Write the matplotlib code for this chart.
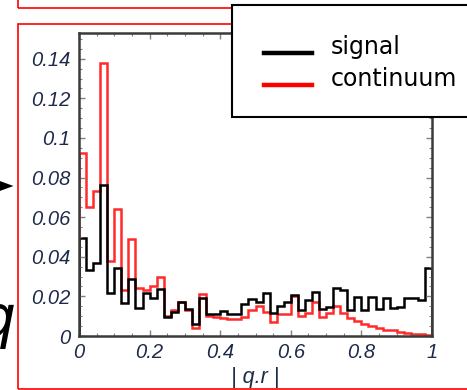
import numpy as np
import matplotlib
matplotlib.use("Agg")
import matplotlib.pyplot as plt
from matplotlib.patches import Rectangle, Polygon
from matplotlib.lines import Line2D
from matplotlib.ticker import MultipleLocator

# histogram of |q.r| in 50 bins over [0, 1]
edges = np.linspace(0.0, 1.0, 51)

signal = [0.0494, 0.0334, 0.0368, 0.0764, 0.0216, 0.0342, 0.0165, 0.029, 0.014, 0.0216,
          0.019, 0.0238, 0.0098, 0.0123, 0.017, 0.0135, 0.006, 0.019, 0.011, 0.011,
          0.0128, 0.011, 0.011, 0.016, 0.0186, 0.017, 0.0215, 0.0118, 0.015, 0.017,
          0.0207, 0.013, 0.018, 0.022, 0.0135, 0.0145, 0.024, 0.023, 0.0132, 0.0199,
          0.0132, 0.0199, 0.0135, 0.019, 0.014, 0.0148, 0.019, 0.019, 0.0183, 0.0342]

continuum = [0.0925, 0.065, 0.073, 0.138, 0.038, 0.064, 0.023, 0.049, 0.024, 0.023,
             0.025, 0.030, 0.010, 0.013, 0.017, 0.013, 0.004, 0.021, 0.010, 0.0095,
             0.009, 0.0085, 0.0085, 0.0095, 0.013, 0.015, 0.012, 0.007, 0.011, 0.011,
             0.020, 0.010, 0.0115, 0.017, 0.0095, 0.0115, 0.015, 0.0115, 0.009, 0.0075,
             0.006, 0.0048, 0.004, 0.0032, 0.0028, 0.0022, 0.0017, 0.0012, 0.0008, 0.0004]

xticks = [0, 0.2, 0.4, 0.6, 0.8, 1]
xticklabels = ["0", "0.2", "0.4", "0.6", "0.8", "1"]
yticks = [0, 0.02, 0.04, 0.06, 0.08, 0.1, 0.12, 0.14]
yticklabels = ["0", "0.02", "0.04", "0.06", "0.08", "0.1", "0.12", "0.14"]
legend_labels = ["signal", "continuum"]

W, H = 467, 390


def fx(x):
    return x / W


def fy(y):
    return 1 - y / H


fig = plt.figure(figsize=(W / 100, H / 100), dpi=100)
ax = fig.add_axes([fx(79), fy(336), 353 / W, 303 / H])

ax.stairs(continuum, edges, color="#ff2a2a", lw=1.8)
ax.stairs(signal, edges, color="black", lw=1.8)

ax.set_xlim(0, 1)
ax.set_ylim(0, 0.153)

tick_font = dict(family="Liberation Sans", style="italic", size=14.5, color="#1e2a4a")
ax.set_xticks(xticks)
ax.set_xticklabels(xticklabels, **tick_font)
ax.set_yticks(yticks)
ax.set_yticklabels(yticklabels, **tick_font)
ax.xaxis.set_minor_locator(MultipleLocator(0.05))
ax.yaxis.set_minor_locator(MultipleLocator(0.005))
ax.tick_params(which="both", direction="in", top=True, right=True, color="#808080")
ax.tick_params(which="major", length=4.5, width=1.0)
ax.tick_params(which="minor", length=2.5, width=0.8)
ax.tick_params(axis="x", pad=5)
ax.tick_params(axis="y", pad=6)
for sp in ax.spines.values():
    sp.set_color("#3a3a3a")
    sp.set_linewidth(1.8)

ax.set_xlabel("| q.r |", family="Liberation Sans", style="italic", size=15.5, color="#1e2a4a")
ax.xaxis.set_label_coords(0.5, (336 - 378) / 303)
ax.xaxis.label.set_va("center")

# red frames of the surrounding panels
fig.patches.append(Rectangle((fx(18.3), fy(7.5)), 1.2, 0.2, transform=fig.transFigure,
                             fill=False, ec="red", lw=1.2))
fig.patches.append(Rectangle((fx(18.3), fy(389)), 1.2, (389 - 24) / H, transform=fig.transFigure,
                             fill=False, ec="red", lw=1.2))

# legend box
fig.patches.append(Rectangle((fx(232), fy(117)), 0.6, (117 - 5) / H, transform=fig.transFigure,
                             fc="white", ec="black", lw=1.5, zorder=5))
for yy, col, lab in [(53, "black", legend_labels[0]), (85, "red", legend_labels[1])]:
    fig.lines.append(Line2D([fx(264), fx(312)], [fy(yy), fy(yy)], transform=fig.transFigure,
                            color=col, lw=3.2, zorder=6))
    fig.text(fx(331), fy(yy + 1), lab, size=17, va="baseline", ha="left", zorder=6)

# pieces of the neighbouring panel
fig.patches.append(Polygon([(fx(-3), fy(180)), (fx(13.5), fy(186)), (fx(-3), fy(192))],
                           closed=True, transform=fig.transFigure, fc="black", ec="none"))
fig.text(fx(15), fy(337), "q", size=42, style="italic", ha="right", va="baseline")

fig.savefig("out.png", dpi=100)
